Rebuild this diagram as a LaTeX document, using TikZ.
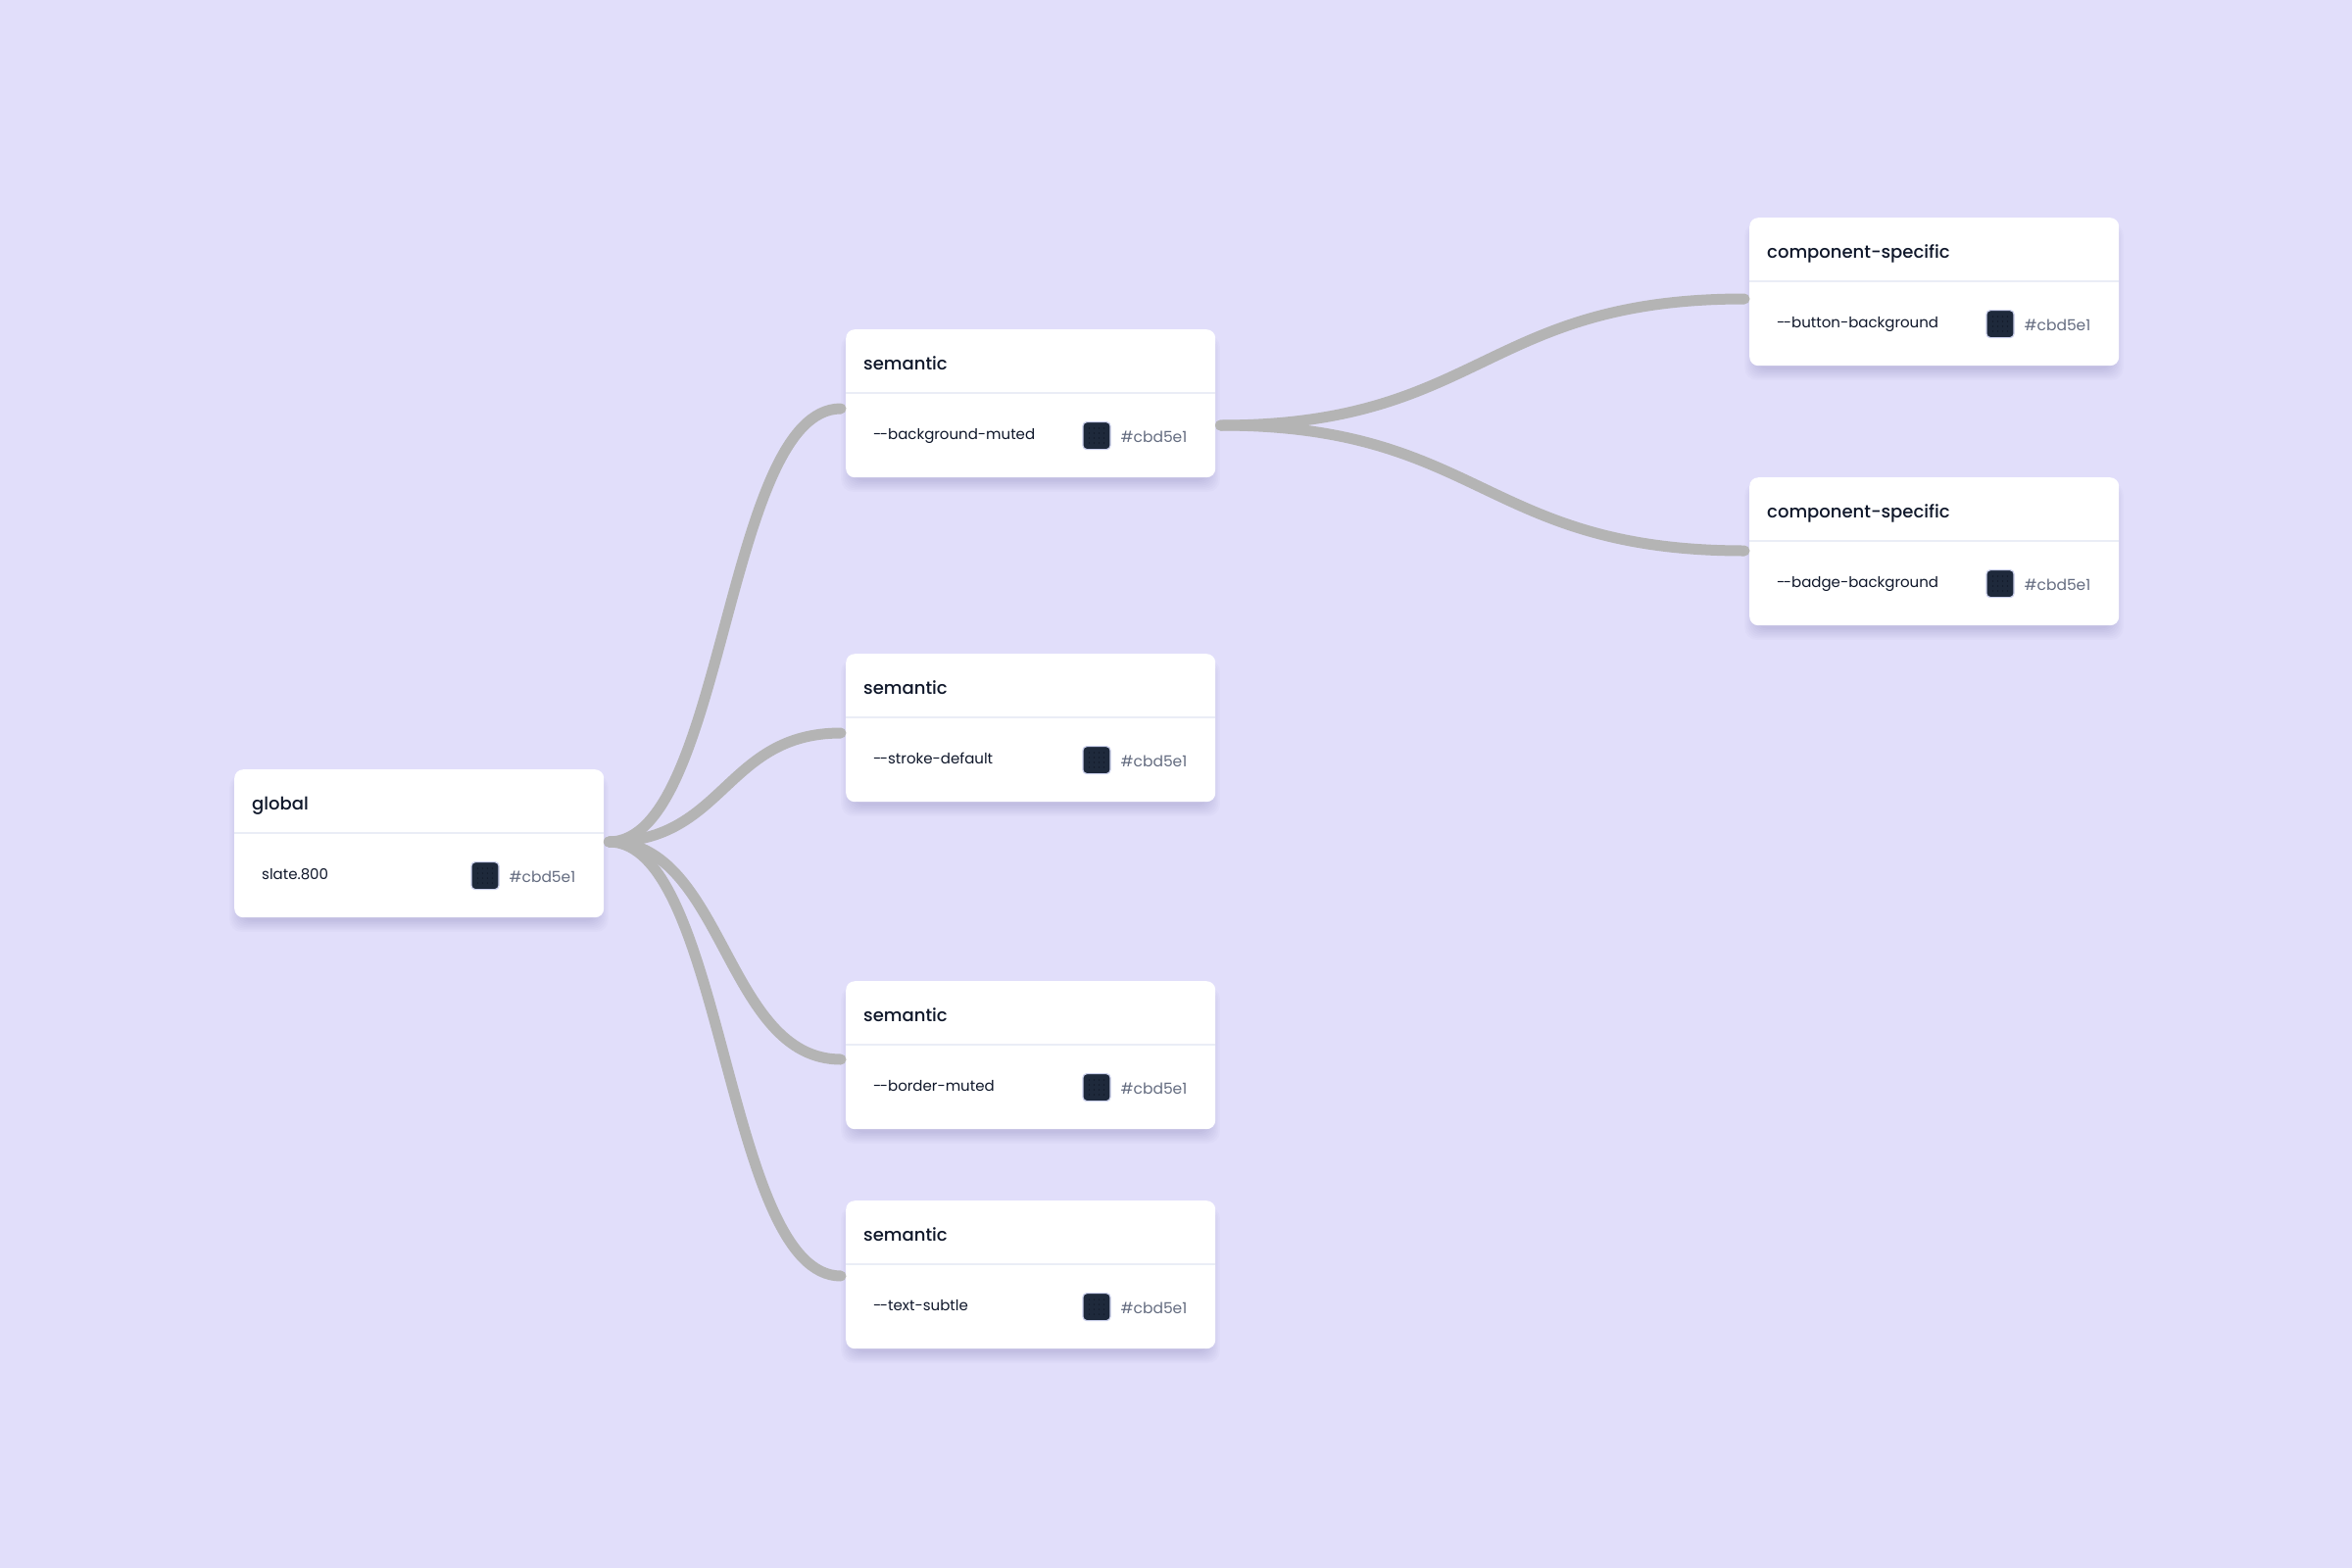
\documentclass[tikz,border=0pt]{standalone}
\usepackage{fontspec}
\setmainfont{Poppins}[BoldFont={Poppins Medium}]
\usetikzlibrary{calc}
\definecolor{bg}{RGB}{225,222,250}
\definecolor{linkgray}{RGB}{180,180,180}
\definecolor{divcol}{RGB}{234,237,246}
\definecolor{ink}{RGB}{15,23,42}
\definecolor{hexgray}{RGB}{100,108,128}
\definecolor{slatefill}{RGB}{30,41,59}
\definecolor{swborder}{RGB}{203,208,235}
\definecolor{dotcol}{RGB}{12,18,32}
\definecolor{shadowcol}{RGB}{70,60,140}
\tikzset{
  card/.style={fill=white, rounded corners=9pt, minimum width=377pt, minimum height=151pt,
    inner sep=0pt, anchor=north west},
  shadowlayer/.style={fill=shadowcol, fill opacity=0.022, rounded corners=12pt},
  hdr/.style={anchor=base west, inner sep=0pt, font=\fontsize{18}{20}\selectfont\bfseries, text=ink},
  rowtxt/.style={anchor=base west, inner sep=0pt, font=\fontsize{15}{18}\selectfont, text=ink},
  hextxt/.style={anchor=base west, inner sep=0pt, font=\fontsize{15.5}{18}\selectfont, text=hexgray},
  swatch/.style={fill=slatefill, draw=swborder, line width=1.2pt, rounded corners=4pt,
    minimum width=28pt, minimum height=28pt, inner sep=0pt, anchor=north west},
  divider/.style={draw=divcol, line width=1.5pt},
  link/.style={draw=linkgray, line width=11pt, line cap=round},
}
\newcommand\dd{-\kern-1.6pt-}
\newcommand\mkcard[5]{%
  \foreach \k in {1,...,8}{
    \fill[shadowlayer] ({#2+8-1.6*\k},{#3+14-\k}) rectangle ({#2+377-8+1.6*\k},{#3+151+2+1.6*\k});}
  \node[card] (#1) at (#2,#3) {};
  \draw[divider] ([yshift=-65pt]#1.north west) -- ([yshift=-65pt]#1.north east);
  \node[hdr] (#1-h) at ([xshift=18pt,yshift=-41pt]#1.north west) {#4};
  \node[rowtxt] (#1-l) at ([xshift=28pt,yshift=-112pt]#1.north west) {#5};
  \node[swatch] (#1-s) at ([xshift=-136pt,yshift=-94pt]#1.north east) {};
  \foreach \dx in {7,12,17,22}{\foreach \dy in {7,12,17,22}{
    \fill[dotcol] ($(#1-s.north west)+(\dx,\dy)$) circle (0.6pt);}}
  \node[hextxt] (#1-x) at ([xshift=-97pt,yshift=-115pt]#1.north east) {\#cbd5e1};
}
\begin{document}
\begin{tikzpicture}[x=1pt,y=-1pt]
\fill[bg] (0,0) rectangle (2400,1600);
\useasboundingbox (0,0) rectangle (2400,1600);

\mkcard{glob}{239}{785}{global}{slate.800}
\mkcard{s1}{863}{336}{semantic}{\dd background-muted}
\mkcard{s2}{863}{667}{semantic}{\dd stroke-default}
\mkcard{s3}{863}{1001}{semantic}{\dd border-muted}
\mkcard{s4}{863}{1225}{semantic}{\dd text-subtle}
\mkcard{c1}{1785}{222}{component-specific}{\dd button-background}
\mkcard{c2}{1785}{487}{component-specific}{\dd badge-background}

\coordinate (g-out) at ([xshift=5pt,yshift=-74pt]glob.north east);
\coordinate (s1-in) at ([xshift=-5pt,yshift=-81pt]s1.north west);
\coordinate (s2-in) at ([xshift=-5pt,yshift=-81pt]s2.north west);
\coordinate (s3-in) at ([xshift=-5pt,yshift=-80pt]s3.north west);
\coordinate (s4-in) at ([xshift=-5pt,yshift=-77pt]s4.north west);
\coordinate (s1-out) at ([xshift=5pt,yshift=-98pt]s1.north east);
\coordinate (c1-in) at ([xshift=-5pt,yshift=-83pt]c1.north west);
\coordinate (c2-in) at ([xshift=-5pt,yshift=-75pt]c2.north west);

\draw[link] (g-out) .. controls +(118,0) and +(-118,0) .. (s1-in);
\draw[link] (g-out) .. controls +(118,0) and +(-118,0) .. (s2-in);
\draw[link] (g-out) .. controls +(118,0) and +(-118,0) .. (s3-in);
\draw[link] (g-out) .. controls +(118,0) and +(-118,0) .. (s4-in);
\draw[link] (s1-out) .. controls +(266,0) and +(-266,0) .. (c1-in);
\draw[link] (s1-out) .. controls +(266,0) and +(-266,0) .. (c2-in);
\end{tikzpicture}
\end{document}
